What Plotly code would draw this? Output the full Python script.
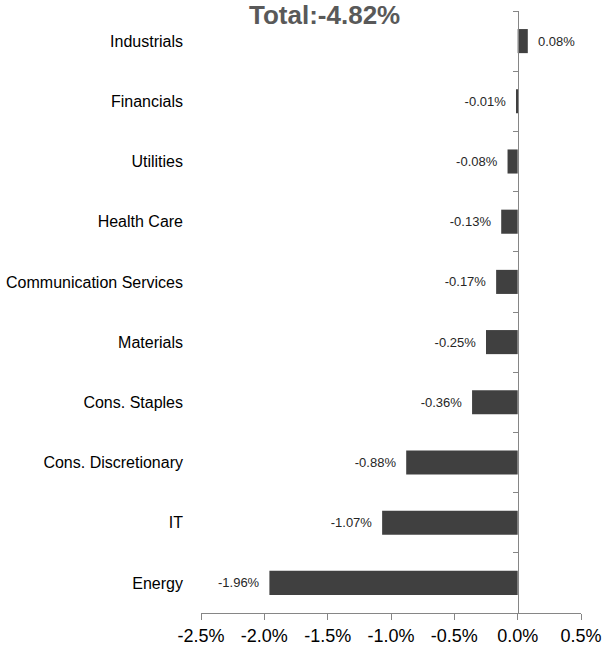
import plotly.graph_objects as go

categories = ["Energy", "IT", "Cons. Discretionary", "Cons. Staples", "Materials",
              "Communication Services", "Health Care", "Utilities", "Financials", "Industrials"]
values = [-1.96, -1.07, -0.88, -0.36, -0.25, -0.17, -0.13, -0.08, -0.01, 0.08]
title_text = "Total:-4.82%"
x_ticks = [-2.5, -2.0, -1.5, -1.0, -0.5, 0.0, 0.5]

FONT = "Liberation Sans, Arial, sans-serif"
AXIS_COLOR = "#868686"
PAD = "\u00a0\u00a0"

label_templates = [(PAD + "%{x:.2f}%") if v >= 0 else ("%{x:.2f}%" + PAD) for v in values]

fig = go.Figure()
fig.add_trace(go.Bar(
    x=values, y=categories, orientation="h",
    marker=dict(color="#404040", line=dict(width=0)),
    texttemplate=label_templates, textposition="outside",
    textfont=dict(family=FONT, size=13, color="#262626"),
    cliponaxis=False, yaxis="y", hoverinfo="x+y",
))
# helper invisible trace to carry category labels on the left axis
fig.add_trace(go.Scatter(
    x=values, y=categories, mode="markers", marker=dict(opacity=0),
    yaxis="y2", hoverinfo="skip", showlegend=False,
))

zero_pos = (0 - x_ticks[0]) / (x_ticks[-1] - x_ticks[0])

fig.update_layout(
    width=602, height=649,
    margin=dict(l=201, r=21, t=11, b=36),
    plot_bgcolor="white", paper_bgcolor="white",
    showlegend=False, bargap=0.6,
    font=dict(family=FONT, color="#000000"),
    xaxis=dict(
        range=[x_ticks[0], x_ticks[-1]], tickvals=x_ticks,
        ticktext=[f"{v:.1f}%" for v in x_ticks],
        showgrid=False, zeroline=False, showline=True, linecolor=AXIS_COLOR,
        ticks="outside", ticklen=6, tickcolor=AXIS_COLOR,
        tickfont=dict(family=FONT, size=18, color="#000000"),
        domain=[0, 1], automargin=False,
    ),
    yaxis=dict(
        type="category", categoryarray=categories, range=[-0.5, len(categories) - 0.5],
        anchor="free", position=zero_pos, showline=True, linecolor=AXIS_COLOR,
        ticks="outside", tickson="boundaries", ticklen=5, tickcolor=AXIS_COLOR,
        showticklabels=False, showgrid=False, zeroline=False, automargin=False,
    ),
    yaxis2=dict(
        type="category", categoryarray=categories, range=[-0.5, len(categories) - 0.5],
        overlaying="y", anchor="x", side="left", showline=False, ticks="",
        showgrid=False, zeroline=False, ticklabelstandoff=17, automargin=False,
        tickfont=dict(family=FONT, size=16, color="#000000"),
    ),
    annotations=[dict(
        text=f"<b>{title_text}</b>", xref="paper", yref="paper",
        x=0.326, y=0.993, xanchor="center", yanchor="middle", showarrow=False,
        font=dict(family=FONT, size=26, color="#595959"),
    )],
)

fig.write_html("out.html")
